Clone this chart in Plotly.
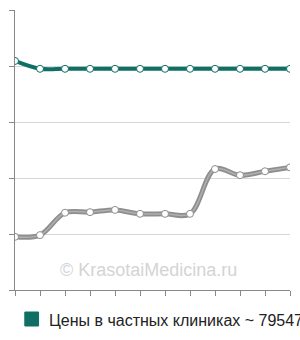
import plotly.graph_objects as go

months = list(range(1, 13))
private_prices = [4.09, 3.95, 3.95, 3.95, 3.95, 3.95, 3.95, 3.95, 3.95, 3.95, 3.95, 3.95]
public_prices = [0.95, 0.98, 1.38, 1.39, 1.43, 1.36, 1.36, 1.36, 2.16, 2.05, 2.12, 2.19]
legend_label = "Цены в частных клиниках ~ 79547руб."
watermark = "© KrasotaiMedicina.ru"

TEAL = "#0f6f64"
fig = go.Figure()
fig.add_trace(go.Scatter(x=months, y=public_prices, mode="lines",
                         line=dict(color="#8e8e8e", width=5, shape="spline", smoothing=1),
                         hoverinfo="skip", showlegend=False))
fig.add_trace(go.Scatter(x=months, y=public_prices, mode="lines+markers",
                         line=dict(color="#b0b0b0", width=1.5, shape="spline", smoothing=1),
                         marker=dict(size=7, color="white", line=dict(color="#8e8e8e", width=1)),
                         showlegend=False))
fig.add_trace(go.Scatter(x=months, y=private_prices, mode="lines+markers",
                         line=dict(color=TEAL, width=4, shape="spline", smoothing=1),
                         marker=dict(size=7, color="white", line=dict(color=TEAL, width=1)),
                         showlegend=False))

fig.update_layout(
    width=300, height=340,
    margin=dict(l=10, r=10, t=10, b=50),
    paper_bgcolor="white", plot_bgcolor="white",
    font=dict(family="Liberation Sans, Arial, sans-serif"),
    xaxis=dict(range=[1, 12], showgrid=False, zeroline=False, showline=True,
               linecolor="#888", linewidth=1, ticks="outside", ticklen=5,
               tickcolor="#888", tickvals=months, showticklabels=False, fixedrange=True),
    yaxis=dict(range=[0, 5], showgrid=True, gridcolor="#d8d8d8", gridwidth=1,
               zeroline=False, showline=True, linecolor="#888", linewidth=1,
               ticks="outside", ticklen=5, tickcolor="#888",
               tickvals=[0, 1, 2, 3, 4, 5], showticklabels=False, fixedrange=True),
    annotations=[
        dict(text=watermark, xref="paper", yref="paper", x=0.485, y=0.07,
             showarrow=False, font=dict(size=18, color="#d4d4d4"),
             xanchor="center", yanchor="middle"),
        dict(text=legend_label, xref="paper", yref="paper", x=(43-10)/280, y=-(320-290)/280,
             showarrow=False, font=dict(size=16, color="#222"),
             xanchor="left", yanchor="middle"),
    ],
    shapes=[
        dict(type="rect", xref="paper", yref="paper",
             x0=(20-10)/280, x1=(34-10)/280, y0=-(326-290)/280, y1=-(312-290)/280,
             fillcolor=TEAL, line=dict(color=TEAL, width=1)),
    ],
)
fig.write_html("out.html")
